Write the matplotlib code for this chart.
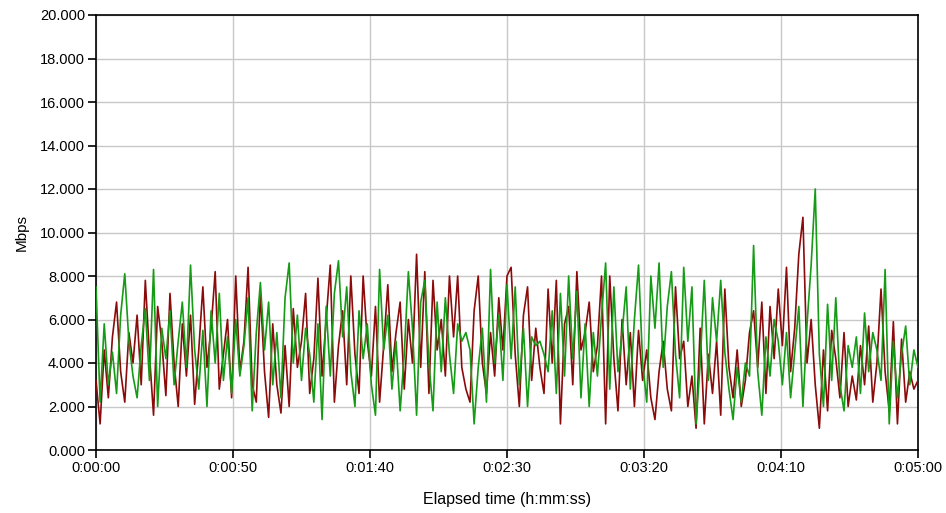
import numpy as np
import matplotlib
matplotlib.use("Agg")
import matplotlib.pyplot as plt

# samples every 1.5 s, 0..300 s (values in Mbps)
step_s = 1.5
green = [
    7.5, 2.2, 5.8, 3.0, 4.5, 2.6, 6.2, 8.1, 5.0, 3.4, 2.4, 4.8, 6.5, 3.2, 8.3, 2.0, 5.6, 4.2, 6.4, 3.0,
    5.0, 6.8, 3.8, 8.5, 4.6, 2.8, 5.5, 2.0, 6.4, 4.0, 7.2, 3.2, 5.2, 2.6, 6.0, 3.4, 4.8, 7.0, 1.8, 5.4,
    7.7, 4.6, 6.8, 3.0, 5.4, 2.4, 7.0, 8.6, 4.0, 6.2, 3.2, 5.6, 4.4, 2.2, 5.8, 1.4, 6.6, 3.4, 7.2, 8.7,
    5.2, 7.5, 3.6, 2.0, 6.4, 4.2, 5.8, 3.0, 1.6, 8.3, 4.6, 6.2, 2.8, 5.0, 1.8, 4.4, 8.2, 5.6, 1.6, 6.8,
    7.8, 4.0, 1.8, 6.8, 3.6, 7.0, 4.4, 2.6, 5.8, 5.0, 5.4, 4.6, 1.2, 3.8, 5.6, 2.2, 8.3, 4.0, 6.2, 3.2,
    7.6, 4.2, 7.5, 3.0, 5.6, 2.0, 5.2, 4.8, 5.0, 4.4, 3.6, 6.4, 2.6, 7.2, 3.4, 8.0, 4.2, 7.3, 2.4, 5.8,
    2.0, 5.4, 3.4, 6.2, 8.6, 2.8, 7.5, 3.6, 5.4, 7.5, 2.8, 6.0, 8.5, 4.0, 2.2, 8.0, 5.6, 8.6, 3.8, 6.6,
    8.2, 4.4, 2.4, 8.4, 5.0, 7.5, 1.2, 4.0, 7.8, 3.2, 7.0, 5.0, 7.8, 4.5, 2.8, 1.4, 3.8, 2.2, 4.0, 3.4,
    9.4, 3.6, 1.6, 5.2, 3.4, 6.0, 5.0, 3.0, 5.4, 2.4, 4.5, 6.6, 2.0, 5.8, 8.5, 12.0, 4.4, 2.0, 6.7, 3.2,
    7.0, 3.0, 1.8, 4.8, 3.8, 5.2, 2.6, 6.3, 3.6, 5.4, 4.6, 3.2, 8.3, 1.2, 5.0, 2.4, 4.4, 5.7, 3.0, 4.6,
    3.8,
]
red = [
    3.2, 1.2, 4.6, 2.4, 5.2, 6.8, 3.6, 2.2, 5.4, 4.0, 6.2, 3.0, 7.8, 4.4, 1.6, 6.6, 5.0, 2.5, 7.2, 4.0,
    2.0, 5.8, 3.4, 6.2, 2.1, 4.6, 7.5, 3.8, 5.6, 8.2, 2.8, 4.4, 6.0, 2.4, 8.0, 3.6, 5.0, 8.4, 3.0, 2.2,
    7.2, 3.6, 1.5, 5.8, 3.0, 1.7, 4.8, 2.0, 6.5, 3.8, 5.0, 7.2, 2.6, 4.2, 7.9, 3.4, 6.0, 8.5, 2.2, 4.8,
    6.4, 3.0, 8.0, 4.4, 2.6, 8.0, 5.0, 3.4, 6.6, 2.2, 4.8, 7.6, 3.6, 5.4, 6.8, 2.8, 6.0, 4.0, 9.0, 3.8,
    8.2, 2.6, 7.8, 4.6, 6.0, 3.4, 8.0, 5.2, 8.0, 3.8, 2.8, 2.2, 6.4, 8.0, 4.0, 2.6, 5.4, 3.4, 7.0, 4.6,
    8.0, 8.4, 4.4, 2.0, 6.2, 7.5, 3.2, 5.6, 3.8, 2.6, 7.4, 4.0, 7.8, 1.2, 5.8, 6.6, 3.0, 8.2, 4.6, 5.4,
    6.8, 3.6, 4.8, 8.0, 1.2, 8.0, 4.2, 1.8, 6.0, 3.0, 5.4, 2.0, 5.5, 3.2, 4.6, 2.4, 1.4, 3.6, 5.0, 2.8,
    1.8, 7.5, 4.2, 5.0, 2.0, 3.4, 1.0, 5.6, 1.2, 4.4, 2.6, 5.0, 1.6, 7.4, 3.8, 2.4, 4.6, 2.0, 3.2, 5.4,
    6.4, 3.8, 6.8, 2.6, 6.6, 4.2, 7.4, 4.8, 8.4, 3.6, 5.6, 9.0, 10.7, 4.0, 6.0, 3.0, 1.0, 4.6, 1.8, 5.5,
    4.2, 2.4, 5.4, 2.0, 3.4, 2.3, 4.8, 3.0, 5.7, 2.2, 4.0, 7.4, 3.6, 1.8, 5.9, 1.2, 5.1, 2.2, 3.6, 2.8,
    3.2,
]
x_ticks = [0, 50, 100, 150, 200, 250, 300]
x_labels = ["0:00:00", "0:00:50", "0:01:40", "0:02:30", "0:03:20", "0:04:10", "0:05:00"]
y_ticks = [0, 2, 4, 6, 8, 10, 12, 14, 16, 18, 20]

t = np.arange(len(green)) * step_s

plt.rcParams['font.family'] = ['Liberation Sans', 'DejaVu Sans']

fig = plt.figure(figsize=(9.46, 5.13), dpi=100)
ax = fig.add_axes([96 / 946, 1 - 450 / 513, 822 / 946, 435 / 513])

ax.plot(t, red, color='#8b0a0a', lw=1.2, zorder=3)
ax.plot(t, green, color='#159b15', lw=1.2, zorder=4)

ax.set_xlim(0, 300)
ax.set_ylim(0, 20)
ax.set_xticks(x_ticks)
ax.set_xticklabels(x_labels)
ax.set_yticks(y_ticks)
ax.set_yticklabels(["%.3f" % v for v in y_ticks])
ax.grid(True, color='#c8c8c8', lw=1)
ax.set_axisbelow(True)
ax.tick_params(direction='out', length=6, width=1.2, labelsize=10.5, pad=2)
for s in ax.spines.values():
    s.set_color('black')
    s.set_linewidth(1.2)

ax.set_ylabel("Mbps", fontsize=11, labelpad=8)
ax.set_xlabel("Elapsed time (h:mm:ss)", fontsize=11.5, labelpad=12)

fig.savefig("out.png", dpi=100)
